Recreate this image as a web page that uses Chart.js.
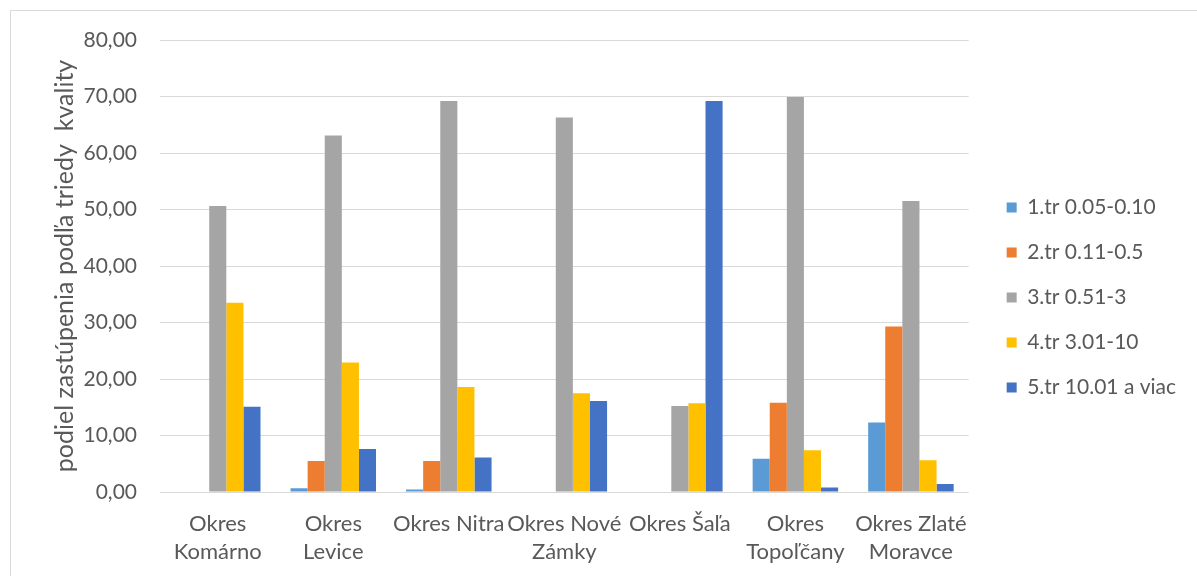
<!DOCTYPE html>
<html><head><meta charset="utf-8">
<script src="https://cdn.jsdelivr.net/npm/chart.js@4/dist/chart.umd.min.js"></script>
<style>
html,body{margin:0;padding:0;background:#fff;}
#wrap{position:absolute;left:10px;top:10px;width:1187px;height:566px;border-left:1px solid #d9d9d9;border-top:1px solid #d9d9d9;box-sizing:border-box;}
canvas{display:block;}
</style></head><body>
<div id="wrap"><canvas id="c" width="1186" height="565"></canvas></div>
<script>
const categories = [["Okres","Komárno"],["Okres","Levice"],"Okres Nitra",["Okres Nové","Zámky"],"Okres Šaľa",["Okres","Topoľčany"],["Okres Zlaté","Moravce"]];
const seriesNames = ["1.tr 0.05-0.10","2.tr 0.11-0.5","3.tr 0.51-3","4.tr 3.01-10","5.tr 10.01 a viac"];
const tr1 = [0, 0.65, 0.45, 0, 0, 5.9, 12.3];
const tr2 = [0, 5.5, 5.5, 0, 0, 15.8, 29.3];
const tr3 = [50.6, 63.1, 69.2, 66.3, 15.2, 69.9, 51.5];
const tr4 = [33.5, 22.9, 18.6, 17.5, 15.7, 7.4, 5.6];
const tr5 = [15.1, 7.6, 6.1, 16.1, 69.2, 0.8, 1.4];
const colors = ["#5b9bd5","#ed7d31","#a5a5a5","#ffc000","#4472c4"];
const yTicks = [0,10,20,30,40,50,60,70,80];
const values = [tr1,tr2,tr3,tr4,tr5];
const FONT = "Lato, 'Open Sans', sans-serif";
new Chart(document.getElementById('c'), {
  type: 'bar',
  data: {
    labels: categories,
    datasets: seriesNames.map((n,i)=>({label:n,data:values[i],backgroundColor:colors[i],borderWidth:0}))
  },
  options: {
    responsive:false, animation:false,
    layout:{padding:{left:0,right:20,top:16,bottom:8}},
    datasets:{bar:{categoryPercentage:0.74,barPercentage:1.0}},
    plugins:{
      legend:{position:'right',align:'center',
        labels:{boxWidth:10,boxHeight:10,padding:24,color:'#595959',font:{family:FONT,size:21}}},
      tooltip:{enabled:false}
    },
    scales:{
      x:{grid:{display:false},border:{display:false},
        afterFit:(s)=>{s.height=76;},
        ticks:{color:'#595959',font:{family:FONT,size:22,lineHeight:1.273},padding:10,maxRotation:0,autoSkip:false}},
      y:{min:0,max:80,afterBuildTicks:(ax)=>{ax.ticks=yTicks.map(v=>({value:v}));},
        afterFit:(s)=>{s.width=149;s.paddingTop=29;s.paddingBottom=0;},
        grid:{color:'#d9d9d9',drawTicks:false},border:{display:false},
        ticks:{color:'#595959',font:{family:FONT,size:21},padding:23,
          callback:(v)=>v.toFixed(2).replace('.',',')},
        title:{display:true,text:'podiel zastúpenia podľa triedy  kvality',color:'#595959',font:{family:FONT,size:25},padding:{top:39,bottom:0}}},
      y2:{position:'right',display:true,grid:{display:false},border:{display:false},ticks:{display:false},
        afterFit:(s)=>{s.width=14;s.paddingTop=0;s.paddingBottom=0;}}
    }
  }
});
</script></body></html>
